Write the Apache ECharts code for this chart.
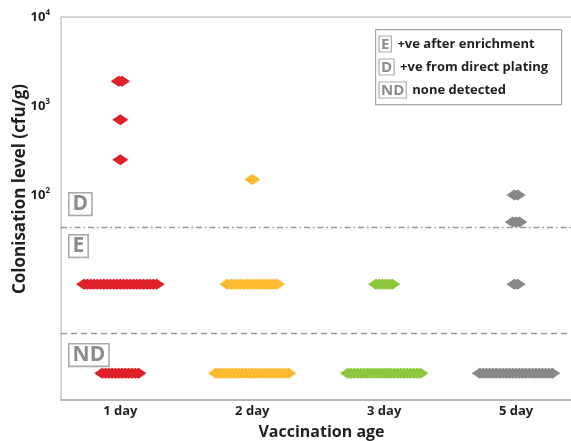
<!DOCTYPE html>
<html>
<head>
<meta charset="utf-8">
<style>
  html, body { margin: 0; padding: 0; background: #fff; }
  #chart { width: 571px; height: 441px; }
</style>
<script src="https://cdn.jsdelivr.net/npm/echarts@6/dist/echarts.min.js"></script>
</head>
<body>
<div id="chart"></div>
<script>
// Vaccination age groups
const categories = ['1 day', '2 day', '3 day', '5 day'];

// Colonisation levels (cfu/g) found in each group and how many birds sit at each level
const levels1Day = [1900, 700, 250, 10, 1];
const counts1Day = [2, 1, 1, 23, 12];
const levels2Day = [150, 10, 1];
const counts2Day = [1, 16, 23];
const levels3Day = [10, 1];
const counts3Day = [6, 23];
const levels5Day = [100, 50, 10, 1];
const counts5Day = [2, 3, 2, 23];

// Detection limits
const directPlatingLimit = 44;
const enrichmentLimit = 2.8;

// Labelled y ticks (powers of ten)
const yTickValues = [100, 1000, 10000];

// Key entries
const keyCodes = ['E', 'D', 'ND'];
const keyTexts = ['+ve after enrichment', '+ve from direct plating', 'none detected'];

const groupColors = ['#df2029', '#fdba30', '#8dc63f', '#878989'];
const FONT = '"Open Sans", "Noto Sans", sans-serif';

// Spread birds with the same level side by side around the group position
const SWARM_STEP = 0.025;
function swarm(groupIndex, levels, counts) {
  const pts = [];
  levels.forEach((lv, i) => {
    const n = counts[i];
    for (let k = 0; k < n; k++) {
      pts.push([groupIndex + (k - (n - 1) / 2) * SWARM_STEP, lv]);
    }
  });
  return pts;
}

const groups = [
  [levels1Day, counts1Day],
  [levels2Day, counts2Day],
  [levels3Day, counts3Day],
  [levels5Day, counts5Day]
];

const series = groups.map((g, i) => ({
  type: 'scatter',
  name: categories[i],
  symbol: 'diamond',
  symbolSize: [16, 11],
  itemStyle: { color: groupColors[i], opacity: 1 },
  data: swarm(i, g[0], g[1]),
  z: 3
}));

// Detection-limit lines
series.push({
  type: 'scatter',
  data: [],
  silent: true,
  markLine: {
    silent: true,
    symbol: 'none',
    label: { show: false },
    data: [
      { yAxis: directPlatingLimit, lineStyle: { type: [6, 3, 1.5, 3], color: '#9a9a9a', width: 1.4 } },
      { yAxis: enrichmentLimit, lineStyle: { type: [6, 4], color: '#9a9a9a', width: 1.4 } }
    ]
  }
});

function isTick(v) {
  return yTickValues.some(t => Math.abs(Math.log10(v) - Math.log10(t)) < 1e-6);
}

const zoneBox = (text, left, top) => ({
  type: 'text',
  left: left,
  top: top,
  style: {
    text: text,
    fill: '#8b8d8d',
    font: 'bold 21px ' + FONT,
    borderColor: '#a9abab',
    borderWidth: 1.6,
    padding: [0, 3, 0, 3],
    backgroundColor: '#fff'
  },
  z: 10
});

const keyRows = keyCodes.map((code, i) => ({
  type: 'text',
  x: 379,
  y: 44 + i * 23,
  style: {
    text: '{box|' + code + '}{lbl|' + keyTexts[i] + '}',
    verticalAlign: 'middle',
    rich: {
      box: {
        fontFamily: FONT, fontWeight: 'bold', fontSize: 15, fill: '#8b8d8d',
        borderColor: '#a9abab', borderWidth: 1.2, padding: [1, 2, 0, 2]
      },
      lbl: {
        fontFamily: FONT, fontWeight: 'bold', fontSize: 13, fill: '#231f20',
        padding: [0, 0, 0, 6]
      }
    }
  },
  z: 11
}));

const chart = echarts.init(document.getElementById('chart'), null, { renderer: 'canvas' });
chart.setOption({
  animation: false,
  backgroundColor: '#fff',
  grid: {
    left: 61, top: 17, bottom: 41, right: -11,
    outerBoundsMode: 'none',
    containLabel: false,
    show: true, borderColor: '#a9a9a9', borderWidth: 1, backgroundColor: 'transparent'
  },
  xAxis: {
    type: 'value',
    min: -0.45,
    max: 3.5,
    minInterval: 1,
    maxInterval: 1,
    splitLine: { show: false },
    axisTick: { show: false },
    axisLine: { show: true, lineStyle: { color: '#b8b8b8', width: 2 } },
    axisLabel: {
      margin: 5,
      fontFamily: FONT, fontWeight: 'bold', fontSize: 13, color: '#231f20',
      showMinLabel: false, showMaxLabel: false,
      formatter: v => {
        const r = Math.round(v);
        return Math.abs(v - r) < 1e-6 && categories[r] ? categories[r] : '';
      }
    },
    name: 'Vaccination age',
    nameLocation: 'middle',
    nameGap: 24,
    nameTextStyle: { fontFamily: FONT, fontWeight: 'bold', fontSize: 16, color: '#231f20', verticalAlign: 'top' }
  },
  yAxis: {
    type: 'log',
    logBase: 10,
    min: 0.5,
    max: 10000,
    splitLine: { show: false },
    axisTick: { show: false },
    axisLine: { show: false },
    axisLabel: {
      margin: 11,
      showMaxLabel: true,
      formatter: v => isTick(v) ? '{b|10}{s|' + Math.round(Math.log10(v)) + '}' : '',
      rich: {
        b: { fontFamily: FONT, fontWeight: 'bold', fontSize: 13, color: '#231f20' },
        s: { fontFamily: FONT, fontWeight: 'bold', fontSize: 8, color: '#231f20', padding: [0, 0, 9, 0] }
      }
    }
  },
  graphic: [
    {
      type: 'text',
      x: 20,
      y: 189,
      rotation: Math.PI / 2,
      style: {
        text: 'Colonisation level (cfu/g)',
        font: 'bold 17px ' + FONT,
        fill: '#231f20',
        align: 'center',
        verticalAlign: 'middle'
      }
    },
    zoneBox('D', 68, 192),
    zoneBox('E', 68, 234),
    zoneBox('ND', 68, 343),
    {
      type: 'rect',
      left: 375, top: 29,
      shape: { width: 186, height: 75 },
      style: { fill: '#fff', stroke: '#a6a6a6', lineWidth: 1.2 },
      z: 10
    }
  ].concat(keyRows),
  series: series
});
</script>
</body>
</html>
